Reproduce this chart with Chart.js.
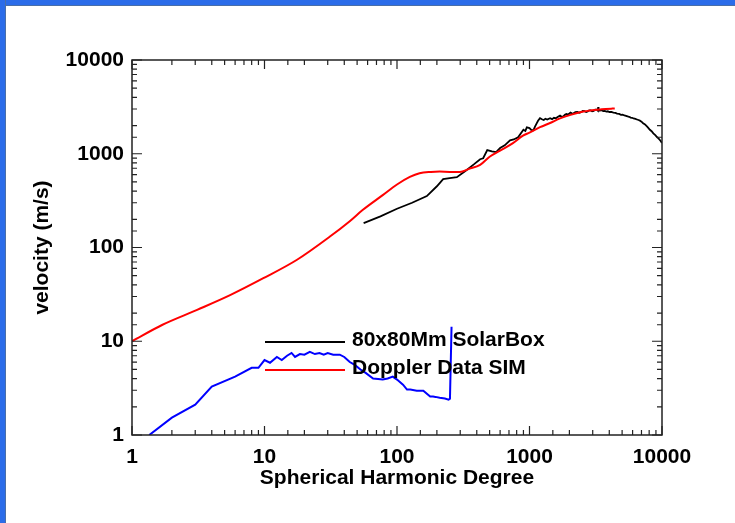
<!DOCTYPE html>
<html>
<head>
<meta charset="utf-8">
<script src="https://cdn.jsdelivr.net/npm/chart.js@4"></script>
<style>
  html, body { margin: 0; padding: 0; background: #fff; }
  #wrap { position: relative; width: 735px; height: 523px; overflow: hidden; }
  #frameTop { position: absolute; left: 0; top: 0; width: 735px; height: 5px; background: #2b6ce9; border-bottom: 1px solid #4a6fa8; }
  #frameLeft { position: absolute; left: 0; top: 0; width: 5px; height: 523px; background: #2b6ce9; border-right: 1px solid #4a6fa8; }
</style>
</head>
<body>
<div id="wrap">
  <canvas id="spectrum" width="735" height="523"></canvas>
  <div id="frameTop"></div>
  <div id="frameLeft"></div>
</div>
<script>
// spherical harmonic degree (l) and velocity (m/s)
const solarBoxL = [56, 75, 100, 130, 168, 200, 223, 250, 283, 330, 380, 424, 447, 480, 520, 560, 600, 650, 713, 760, 820, 900, 930, 955, 1000, 1030, 1070, 1100, 1130, 1160, 1200, 1240, 1280, 1320, 1360, 1430, 1480, 1530, 1580, 1630, 1700, 1750, 1800, 1850, 1900, 1960, 2040, 2100, 2150, 2220, 2300, 2370, 2450, 2520, 2600, 2680, 2750, 2820, 2900, 2970, 3050, 3130, 3230, 3280, 3300, 3320, 3400, 3500, 3600, 3700, 3800, 3900, 4000, 4150, 4300, 4450, 4580, 4750, 4900, 5050, 5200, 5350, 5500, 5650, 5800, 5950, 6100, 6300, 6470, 6650, 6800, 7000, 7200, 7400, 7600, 7850, 8100, 8350, 8600, 8900, 9200, 9400, 9600, 9800, 10000];
const solarBoxV = [182, 215, 259, 300, 354, 450, 537, 550, 562, 660, 770, 874, 895, 1095, 1060, 1040, 1150, 1230, 1390, 1420, 1500, 1800, 1750, 1910, 1880, 1800, 1780, 1950, 2100, 2250, 2400, 2330, 2290, 2360, 2320, 2390, 2340, 2420, 2390, 2470, 2550, 2480, 2500, 2600, 2650, 2620, 2750, 2680, 2700, 2780, 2800, 2740, 2780, 2860, 2850, 2790, 2820, 2900, 2900, 2840, 2870, 2960, 2950, 2880, 3150, 2900, 2880, 2920, 2850, 2870, 2820, 2840, 2790, 2800, 2750, 2730, 2680, 2660, 2600, 2610, 2560, 2540, 2500, 2480, 2430, 2420, 2380, 2350, 2320, 2290, 2260, 2200, 2120, 2070, 1990, 1900, 1800, 1740, 1650, 1580, 1500, 1460, 1410, 1360, 1300];

const dopplerL = [1, 1.7, 3.1, 5.5, 9.8, 17.6, 31, 44, 55, 78, 100, 125, 148, 180, 210, 250, 298, 350, 424, 500, 600, 750, 893, 1000, 1200, 1430, 1700, 2040, 2500, 2870, 3500, 4200, 4400];
const dopplerV = [10, 15, 21.6, 31, 47, 74, 130, 191, 251, 362, 470, 566, 620, 640, 645, 640, 640, 690, 760, 930, 1080, 1300, 1560, 1680, 1920, 2130, 2380, 2600, 2800, 2900, 2980, 3030, 3040];

const blueL = [1.35, 2, 3, 4, 6, 8, 9, 10, 11, 12.4, 13.5, 14.8, 16, 17, 18.5, 20, 22, 24, 26, 28, 30, 33, 37, 40, 44, 48, 53, 58, 66, 72, 78, 85, 93, 100, 111, 119, 126, 141, 158, 178, 187, 195, 210, 230, 245, 251, 258];
const blueV = [1.0, 1.53, 2.11, 3.28, 4.2, 5.2, 5.2, 6.3, 5.9, 6.8, 6.3, 7.0, 7.5, 6.8, 7.3, 7.2, 7.7, 7.3, 7.5, 7.2, 7.5, 7.2, 7.2, 6.8, 6.0, 5.6, 5.0, 4.6, 4.0, 3.95, 3.9, 4.0, 4.2, 3.9, 3.44, 3.05, 3.05, 2.97, 2.97, 2.57, 2.57, 2.55, 2.5, 2.45, 2.38, 2.44, 14.3];

const seriesNames = ['80x80Mm SolarBox', 'Doppler Data SIM', ''];
const seriesColors = ['#000000', '#ff0000', '#0000ff'];
const tickValues = [1, 10, 100, 1000, 10000];
const tickLabels = ['1', '10', '100', '1000', '10000'];

function pts(xs, ys) { return xs.map((x, i) => ({ x: x, y: ys[i] })); }

Chart.defaults.font.family = '"Liberation Sans", Arial, sans-serif';
Chart.defaults.font.size = 21;
Chart.defaults.font.weight = 'bold';
Chart.defaults.color = '#000';

function tickText(value) {
  const i = tickValues.indexOf(value);
  return i >= 0 ? tickLabels[i] : '';
}

// IDL style: box round the plot, ticks pointing inward, legend inside
const idlFrame = {
  id: 'idlFrame',
  afterDatasetsDraw(chart) {
    const ctx = chart.ctx;
    const a = chart.chartArea;
    const sx = chart.scales.x, sy = chart.scales.y;
    ctx.save();
    ctx.strokeStyle = '#222';
    ctx.lineWidth = 1.5;
    ctx.strokeRect(a.left, a.top, a.right - a.left, a.bottom - a.top);
    ctx.lineWidth = 1.2;
    ctx.beginPath();
    sx.ticks.forEach(t => {
      const p = sx.getPixelForValue(t.value);
      const len = tickValues.includes(t.value) ? 9 : 5;
      ctx.moveTo(p, a.bottom); ctx.lineTo(p, a.bottom - len);
      ctx.moveTo(p, a.top); ctx.lineTo(p, a.top + len);
    });
    sy.ticks.forEach(t => {
      const p = sy.getPixelForValue(t.value);
      const len = tickValues.includes(t.value) ? 10 : 5;
      ctx.moveTo(a.left, p); ctx.lineTo(a.left + len, p);
      ctx.moveTo(a.right, p); ctx.lineTo(a.right - len, p);
    });
    ctx.stroke();

    // legend
    const lx = a.left + 133, lw = 80;
    const rows = [a.top + 282, a.top + 310];
    ctx.font = 'bold 21px "Liberation Sans", Arial, sans-serif';
    ctx.textBaseline = 'middle';
    ctx.fillStyle = '#000';
    [0, 1].forEach((k, r) => {
      const ds = chart.data.datasets[k];
      ctx.strokeStyle = ds.borderColor;
      ctx.lineWidth = 2;
      ctx.beginPath();
      ctx.moveTo(lx, rows[r]); ctx.lineTo(lx + lw, rows[r]);
      ctx.stroke();
      ctx.fillText(ds.label, lx + lw + 7, rows[r] - 2);
    });
    ctx.restore();
  }
};

new Chart(document.getElementById('spectrum'), {
  type: 'line',
  data: {
    datasets: [
      { label: seriesNames[0], data: pts(solarBoxL, solarBoxV), borderColor: seriesColors[0], borderWidth: 1.8, order: 1 },
      { label: seriesNames[1], data: pts(dopplerL, dopplerV), borderColor: seriesColors[1], cubicInterpolationMode: 'monotone', order: 0 },
      { label: seriesNames[2], data: pts(blueL, blueV), borderColor: seriesColors[2], order: 2 }
    ]
  },
  options: {
    responsive: false,
    animation: false,
    devicePixelRatio: 1,
    layout: { padding: { left: 0, top: 60, right: 73, bottom: 0 } },
    elements: {
      point: { radius: 0 },
      line: { borderWidth: 2, tension: 0 }
    },
    plugins: { legend: { display: false }, tooltip: { enabled: false } },
    scales: {
      x: {
        type: 'logarithmic',
        min: 1, max: 10000,
        grid: { display: false, drawTicks: false },
        border: { display: false },
        ticks: { autoSkip: false, maxRotation: 0, padding: 10, callback: v => tickText(v) },
        title: { display: true, text: 'Spherical Harmonic Degree', padding: { top: 0, bottom: 32 } },
        afterFit: s => { s.height = 88; }
      },
      y: {
        type: 'logarithmic',
        min: 1, max: 10000,
        grid: { display: false, drawTicks: false },
        border: { display: false },
        ticks: { autoSkip: false, padding: 8, callback: v => tickText(v) },
        title: { display: true, text: 'velocity (m/s)', padding: { top: 30, bottom: 0 } },
        afterFit: s => { s.width = 132; }
      }
    }
  },
  plugins: [idlFrame]
});
</script>
</body>
</html>
